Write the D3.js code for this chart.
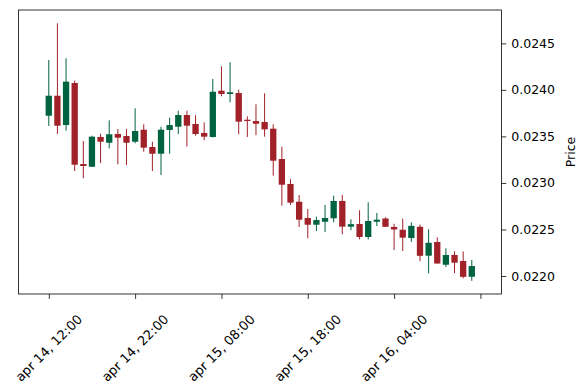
<!DOCTYPE html>
<html>
<head>
<meta charset="utf-8">
<script src="https://cdn.jsdelivr.net/npm/d3@7"></script>
<style>
  body { margin: 0; background: #fff; }
  svg { font-family: "DejaVu Sans", sans-serif; }
</style>
</head>
<body>
<svg width="588" height="390"></svg>
<script>
// hourly candles, first one is apr 14, 12:00
const opens  = [0.023722,0.023937,0.023622,0.024074,0.023203,0.023174,0.023494,0.023432,0.023526,0.023504,
                0.023443,0.023572,0.023386,0.023314,0.023569,0.023604,0.023730,0.023633,0.023537,0.023494,
                0.023991,0.023956,0.023966,0.023679,0.023665,0.023655,0.023583,0.023257,0.022989,0.022798,
                0.022623,0.022551,0.022583,0.022620,0.022806,0.022530,0.022559,0.022419,0.022583,0.022618,
                0.022527,0.022497,0.022408,0.022529,0.022218,0.022365,0.022121,0.022226,0.022161,0.021992];
const highs  = [0.024321,0.024715,0.024339,0.024099,0.023451,0.023508,0.023529,0.023673,0.023580,0.023580,
                0.023802,0.023630,0.023443,0.023604,0.023701,0.023776,0.023776,0.023727,0.023651,0.024117,
                0.024253,0.024296,0.024002,0.023716,0.023845,0.023963,0.023630,0.023389,0.023039,0.022870,
                0.022720,0.022637,0.022763,0.022863,0.022870,0.022609,0.022707,0.022792,0.022677,0.022631,
                0.022561,0.022616,0.022577,0.022553,0.022503,0.022416,0.022298,0.022266,0.022264,0.022172];
const lows   = [0.023612,0.023526,0.023561,0.023128,0.023050,0.023171,0.023214,0.023372,0.023200,0.023193,
                0.023426,0.023336,0.023128,0.023085,0.023314,0.023526,0.023391,0.023508,0.023458,0.023488,
                0.023931,0.023866,0.023523,0.023494,0.023513,0.023497,0.023078,0.022755,0.022763,0.022527,
                0.022405,0.022484,0.022473,0.022577,0.022448,0.022492,0.022394,0.022394,0.022537,0.022527,
                0.022279,0.022269,0.022367,0.022159,0.022029,0.022134,0.022096,0.022030,0.021975,0.021948];
const closes = [0.023937,0.023615,0.024088,0.023196,0.023182,0.023497,0.023443,0.023523,0.023486,0.023432,
                0.023558,0.023379,0.023314,0.023572,0.023622,0.023730,0.023615,0.023526,0.023497,0.023980,
                0.023956,0.023974,0.023658,0.023665,0.023636,0.023576,0.023239,0.022981,0.022788,0.022605,
                0.022551,0.022602,0.022623,0.022806,0.022530,0.022557,0.022419,0.022591,0.022605,0.022529,
                0.022500,0.022412,0.022539,0.022217,0.022357,0.022134,0.022226,0.022143,0.021991,0.022107];

const tickIdx = [0, 10, 20, 30, 40, 50];
const tickLabels = ["apr 14, 12:00", "apr 14, 22:00", "apr 15, 08:00", "apr 15, 18:00", "apr 16, 04:00", ""];
const priceTicks = [0.0220, 0.0225, 0.0230, 0.0235, 0.0240, 0.0245];

const upColor = "#006340";
const downColor = "#a02128";

const plotL = 18.4, plotR = 501.4, plotT = 10, plotB = 294;

const svg = d3.select("svg");

const data = opens.map((o, i) => ({i: i, o: o, h: highs[i], l: lows[i], c: closes[i]}));

const x = d3.scaleLinear()
            .domain([-3.52, 52.43])
            .range([plotL, plotR]);

const y = d3.scaleLinear()
            .domain([0.0218066, 0.0248582])
            .range([plotB, plotT]);

const bodyW = x(0.73) - x(0);

// wicks
svg.append("g")
   .selectAll("line")
   .data(data)
   .enter()
   .append("line")
   .attr("x1", d => x(d.i))
   .attr("x2", d => x(d.i))
   .attr("y1", d => y(d.h))
   .attr("y2", d => y(d.l))
   .attr("stroke", d => d.c >= d.o ? upColor : downColor)
   .attr("stroke-width", 1);

// bodies
svg.append("g")
   .selectAll("rect")
   .data(data)
   .enter()
   .append("rect")
   .attr("x", d => x(d.i) - bodyW / 2)
   .attr("width", bodyW)
   .attr("y", d => y(Math.max(d.o, d.c)))
   .attr("height", d => Math.max(1.2, Math.abs(y(d.o) - y(d.c))))
   .attr("fill", d => d.c >= d.o ? upColor : downColor);

// frame
svg.append("rect")
   .attr("x", plotL)
   .attr("y", plotT)
   .attr("width", plotR - plotL)
   .attr("height", plotB - plotT)
   .attr("fill", "none")
   .attr("stroke", "#000")
   .attr("stroke-width", 0.8);

// y axis on the right
const yAxis = d3.axisRight(y)
                .tickValues(priceTicks)
                .tickFormat(d3.format(".4f"))
                .tickSize(4.9)
                .tickPadding(5);

const yg = svg.append("g")
              .attr("transform", `translate(${plotR}, 0)`)
              .call(yAxis);
yg.select(".domain").remove();
yg.selectAll("line").attr("stroke", "#000").attr("stroke-width", 0.8);
yg.selectAll("text").attr("font-size", 12.5).attr("fill", "#000").attr("font-family", "DejaVu Sans");

// x axis ticks
const xAxis = d3.axisBottom(x)
                .tickValues(tickIdx)
                .tickFormat("")
                .tickSize(4.9);

const xg = svg.append("g")
              .attr("transform", `translate(0, ${plotB})`)
              .call(xAxis);
xg.select(".domain").remove();
xg.selectAll("line").attr("stroke", "#000").attr("stroke-width", 0.8);

svg.append("g")
   .selectAll("text")
   .data(tickIdx)
   .enter()
   .append("text")
   .attr("transform", d => `translate(${x(d)}, 348) rotate(-45)`)
   .attr("text-anchor", "middle")
   .attr("dy", "0.35em")
   .attr("font-size", 13)
   .attr("fill", "#000")
   .text((d, i) => tickLabels[i]);

// axis title
svg.append("text")
   .attr("transform", `translate(571, ${(plotT + plotB) / 2}) rotate(-90)`)
   .attr("text-anchor", "middle")
   .attr("dy", "0.35em")
   .attr("font-size", 12.5)
   .attr("fill", "#000")
   .text("Price");
</script>
</body>
</html>
